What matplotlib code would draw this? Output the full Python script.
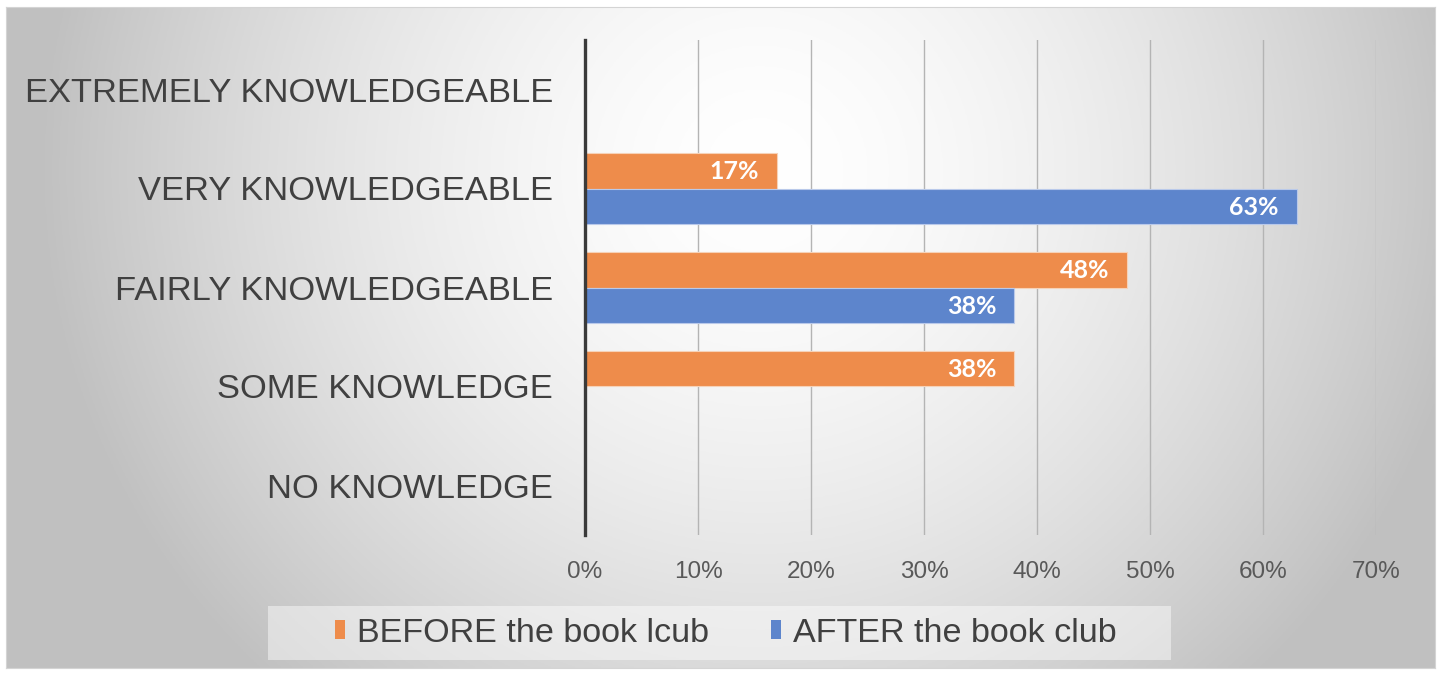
import numpy as np
import matplotlib
matplotlib.use("Agg")
import matplotlib.pyplot as plt
from matplotlib.patches import Patch, Rectangle

# survey results (share of respondents)
categories = ["EXTREMELY KNOWLEDGEABLE", "VERY KNOWLEDGEABLE", "FAIRLY KNOWLEDGEABLE",
              "SOME KNOWLEDGE", "NO KNOWLEDGE"]
before_vals = [0, 17, 48, 38, 0]
after_vals = [0, 63, 38, 0, 0]
series_names = ["BEFORE the book lcub", "AFTER the book club"]
x_ticks = [0, 10, 20, 30, 40, 50, 60, 70]

ORANGE = "#EE8C4B"
BLUE = "#5D85CC"

plt.rcParams["font.family"] = ["Liberation Sans", "DejaVu Sans"]

W, H = 1440, 673
fig = plt.figure(figsize=(W / 100, H / 100), dpi=100, facecolor="white")

# chart area background: soft radial gradient, light in the upper middle
bx0, by0, bx1, by1 = 6, 7, 1435, 668
bg = fig.add_axes([bx0 / W, 1 - by1 / H, (bx1 - bx0) / W, (by1 - by0) / H], zorder=0)
xs = np.linspace(bx0, bx1, 480)
ys = np.linspace(by0, by1, 240)
gx, gy = np.meshgrid(xs, ys)
r2 = ((gx - 760) / 720) ** 2 + ((gy - 170) / 700) ** 2
r2 = np.clip(r2, 0, 1)
shade = 1 - 0.245 * r2 ** 0.8
bg.imshow(np.dstack([shade] * 3), extent=[0, 1, 0, 1], aspect="auto", origin="upper")
bg.set_xlim(0, 1)
bg.set_ylim(0, 1)
bg.set_xticks([])
bg.set_yticks([])
for s in bg.spines.values():
    s.set_color("#d4d4d4")
    s.set_linewidth(0.8)

# plot area
ax = fig.add_axes([585 / W, 138 / H, 791 / W, 495 / H], zorder=2)
ax.patch.set_alpha(0)

y = np.arange(len(categories))
bh = 0.36
b1 = ax.barh(y - bh / 2, before_vals, height=bh, color=ORANGE, edgecolor="#f6d2b8",
             linewidth=0.8, zorder=3)
b2 = ax.barh(y + bh / 2, after_vals, height=bh, color=BLUE, edgecolor="#b9c9ea",
             linewidth=0.8, zorder=3)

for bars, vals in ((b1, before_vals), (b2, after_vals)):
    for rect, v in zip(bars, vals):
        if v == 0:
            continue
        ax.annotate(f"{v}%", (v, rect.get_y() + rect.get_height() / 2),
                    xytext=(-13, -0.5), textcoords="offset points",
                    ha="right", va="center", color="white", fontsize=18,
                    fontweight="bold", family=["Lato", "DejaVu Sans"], zorder=4)

ax.set_xlim(0, 70)
ax.set_ylim(len(categories) - 0.5, -0.5)
ax.set_xticks(x_ticks)
ax.set_xticklabels([f"{t}%" for t in x_ticks])
ax.set_yticks(y)
ax.set_yticklabels(categories)
ax.tick_params(axis="x", length=0, pad=19, labelsize=17.5, labelcolor="#595959")
ax.tick_params(axis="y", length=0, pad=23, labelsize=24.8, labelcolor="#404040")

ax.grid(axis="x", color="#b4b4b4", linewidth=1.0, zorder=1)
ax.set_axisbelow(True)
for side in ("top", "right", "bottom"):
    ax.spines[side].set_visible(False)
ax.spines["left"].set_color("#3a3a3a")
ax.spines["left"].set_linewidth(2.4)
ax.spines["left"].set_zorder(5)

# legend panel
fig.patches.append(Rectangle((268 / W, 1 - 660 / H), (1171 - 268) / W, 54 / H,
                             transform=fig.transFigure, facecolor="white", alpha=0.45,
                             edgecolor="none", zorder=1))
handles = [Patch(facecolor=ORANGE), Patch(facecolor=BLUE)]
fig.legend(handles, series_names, loc="center", bbox_to_anchor=(726 / W, 1 - 633 / H),
           ncol=2, frameon=False, fontsize=24.6, handlelength=0.3, handleheight=0.45,
           handletextpad=0.35, columnspacing=1.8, labelcolor="#404040")

fig.savefig("out.png", dpi=100, facecolor="white")
